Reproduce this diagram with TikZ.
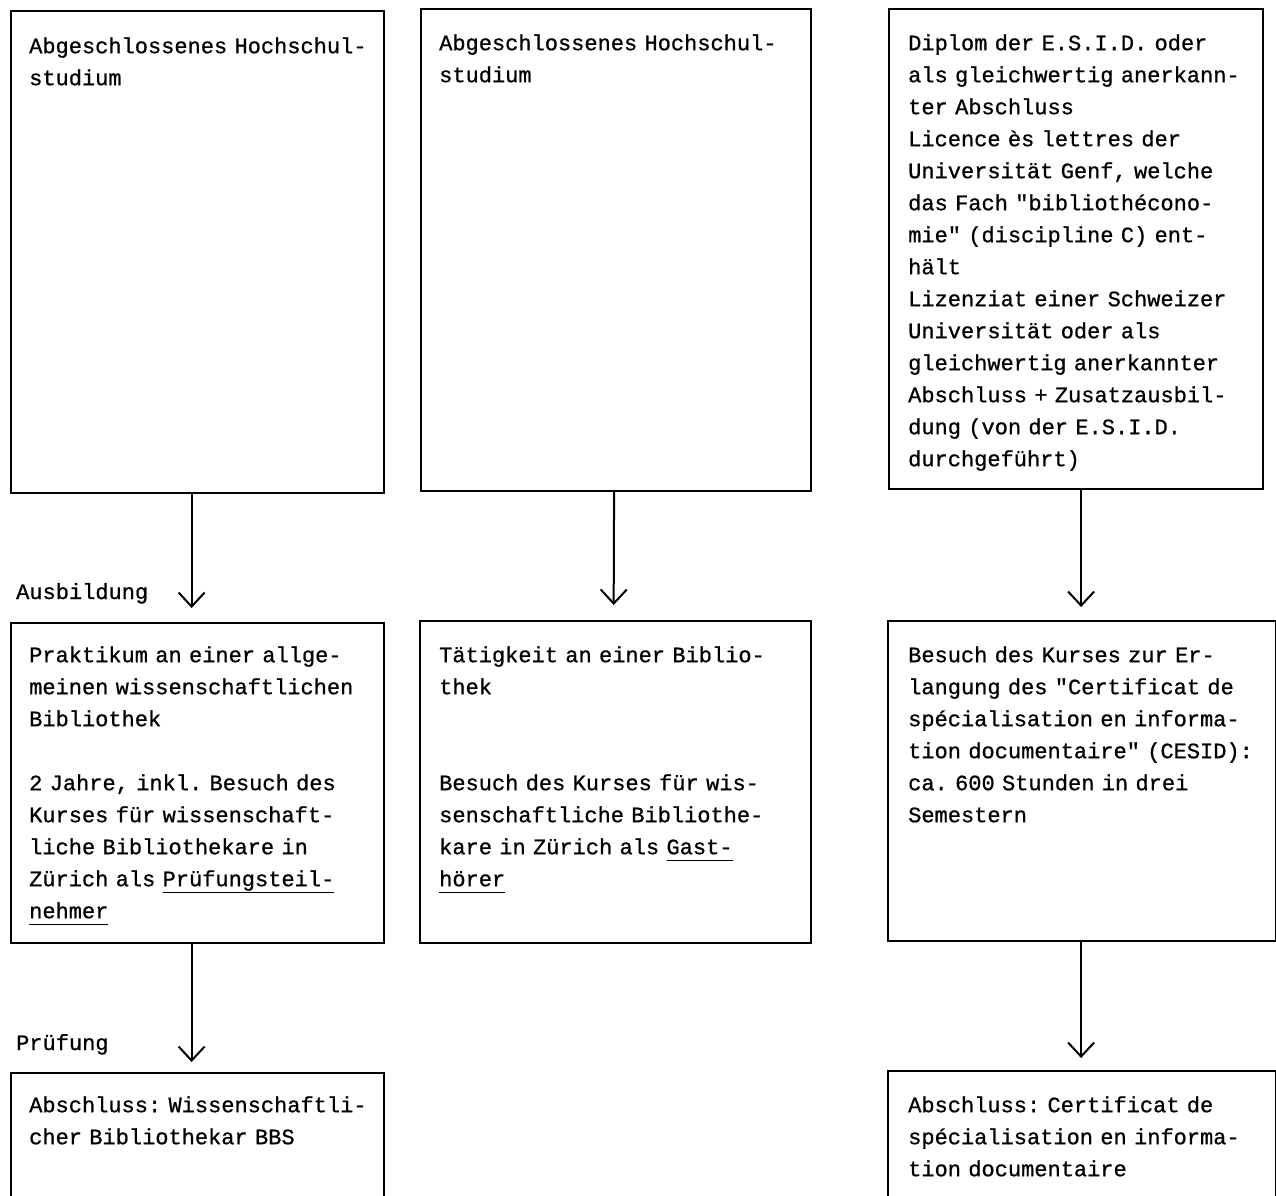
\documentclass[tikz,border=0pt]{standalone}
\usepackage{fontspec}
\newfontfamily\tw[FakeBold=0.8]{Liberation Mono}
\usetikzlibrary{arrows.meta}
\newcommand\myul[1]{\underline{#1\vphantom{g}}}
\newcommand\twfont{\tw\fontsize{22}{32}\selectfont\frenchspacing}
\begin{document}
\begin{tikzpicture}[x=1pt,y=-1pt,
  box/.style={draw, line width=2.2pt, anchor=north west, inner sep=0pt},
  txt/.style={anchor=north west, inner sep=0pt, align=left, text width=460pt,
     font=\twfont},
  lab/.style={anchor=base west, inner sep=0pt, font=\twfont},
  arr/.style={line width=2pt, -{Straight Barb[length=14pt,width=26pt,line width=2pt]}}]
\useasboundingbox (0,0) rectangle (1276,1195);
\fill[white] (0,0) rectangle (1276,1195);
% row 1
\node[box, minimum width=373pt, minimum height=482pt] (b1) at (10,10) {};
\node[box, minimum width=390pt, minimum height=482pt] (b2) at (420,8) {};
\node[box, minimum width=374pt, minimum height=480pt] (b3) at (888,8) {};
% row 2
\node[box, minimum width=373pt, minimum height=320pt] (b4) at (10,622) {};
\node[box, minimum width=391pt, minimum height=322pt] (b5) at (419,620) {};
\node[box, minimum width=388pt, minimum height=320pt] (b6) at (887,620) {};
% row 3
\node[box, minimum width=373pt, minimum height=200pt] (b7) at (10,1072) {};
\node[box, minimum width=388pt, minimum height=200pt] (b8) at (887,1070) {};
% texts
\node[txt] (t1) at ([shift={(19pt,-20.6pt)}]b1.north west) {\strut Abgeschlossenes Hochschul-\\studium};
\node[txt] (t2) at ([shift={(19pt,-19.6pt)}]b2.north west) {\strut Abgeschlossenes Hochschul-\\studium};
\node[txt] (t3) at ([shift={(20pt,-19.6pt)}]b3.north west) {\strut Diplom der E.S.I.D. oder\\als gleichwertig anerkann-\\ter Abschluss\\Licence ès lettres der\\Universität Genf, welche\\das Fach "bibliothécono-\\mie" (discipline C) ent-\\hält\\Lizenziat einer Schweizer\\Universität oder als\\gleichwertig anerkannter\\Abschluss + Zusatzausbil-\\dung (von der E.S.I.D.\\durchgeführt)};
\node[txt] (t4) at ([shift={(19pt,-17.6pt)}]b4.north west) {\strut Praktikum an einer allge-\\meinen wissenschaftlichen\\Bibliothek\\\mbox{}\\2 Jahre, inkl. Besuch des\\Kurses für wissenschaft-\\liche Bibliothekare in\\Zürich als \myul{Prüfungsteil-}\\\myul{nehmer}};
\node[txt] (t5) at ([shift={(20pt,-19.6pt)}]b5.north west) {\strut Tätigkeit an einer Biblio-\\thek\\\mbox{}\\\mbox{}\\Besuch des Kurses für wis-\\senschaftliche Bibliothe-\\kare in Zürich als \myul{Gast-}\\\myul{hörer}};
\node[txt] (t6) at ([shift={(21pt,-19.6pt)}]b6.north west) {\strut Besuch des Kurses zur Er-\\langung des "Certificat de\\spécialisation en informa-\\tion documentaire" (CESID):\\ca. 600 Stunden in drei\\Semestern};
\node[txt] (t7) at ([shift={(19pt,-17.6pt)}]b7.north west) {\strut Abschluss: Wissenschaftli-\\cher Bibliothekar BBS};
\node[txt] (t8) at ([shift={(21pt,-19.6pt)}]b8.north west) {\strut Abschluss: Certificat de\\spécialisation en informa-\\tion documentaire};
% labels
\node[lab] (l1) at (16,599) {Ausbildung};
\node[lab] (l2) at (16,1050) {Prüfung};
% arrows
\draw[arr, shorten >=14pt] ([xshift=-6pt]b1.south) -- ([xshift=-6pt]b4.north);
\draw[arr, shorten >=15pt] ([xshift=-2pt]b2.south) -- ([xshift=-2pt]b5.north);
\draw[arr, shorten >=13pt] ([xshift=5pt]b3.south) -- ([xshift=5pt]b3.south |- b6.north);
\draw[arr, shorten >=10pt] ([xshift=-6pt]b4.south) -- ([xshift=-6pt]b7.north);
\draw[arr, shorten >=12pt] ([xshift=-1pt]b6.south) -- ([xshift=-1pt]b8.north);
\end{tikzpicture}
\end{document}
